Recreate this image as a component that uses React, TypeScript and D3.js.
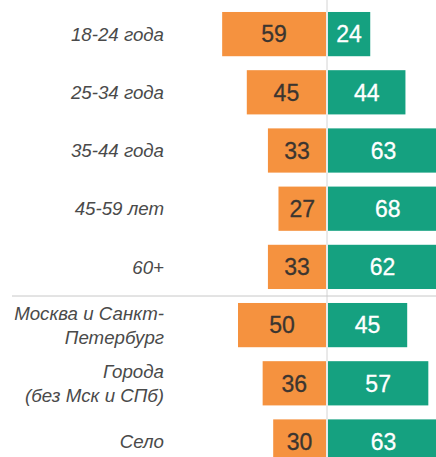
import * as d3 from "d3";
import React, { useRef, useEffect } from "react";

// rows, top to bottom ("\n" = line break in the label)
const categories = [
  "18-24 года",
  "25-34 года",
  "35-44 года",
  "45-59 лет",
  "60+",
  "Москва и Санкт-\nПетербург",
  "Города\n(без Мск и СПб)",
  "Село",
];
const leftValues = [59, 45, 33, 27, 33, 50, 36, 30];
const rightValues = [24, 44, 63, 68, 62, 45, 57, 63];
// separator line is drawn after this row
const groupBreakAfter = 4;

const w = 436;
const h = 457;

export default function App() {
  const svgRef = useRef<SVGSVGElement | null>(null);

  useEffect(() => {
    const svgEl = d3.select(svgRef.current);
    svgEl.selectAll("*").remove();
    const svg = svgEl.append("g");

    const center = 327;
    const step = 58.2;
    const yScale = d3
      .scaleBand<string>()
      .domain(categories)
      .range([5, 5 + step * categories.length])
      .paddingInner(0.24)
      .paddingOuter(0.12);
    const xScale = d3.scaleLinear().domain([0, 100]).range([0, 176]);

    const rows = categories.map((c, i) => ({
      cat: c,
      left: leftValues[i],
      right: rightValues[i],
    }));

    // center line
    svg
      .append("line")
      .attr("x1", center)
      .attr("x2", center)
      .attr("y1", 0)
      .attr("y2", h)
      .attr("stroke", "#d4d4d4")
      .attr("stroke-width", 1);

    // separator
    const sepY =
      yScale(categories[groupBreakAfter])! +
      yScale.bandwidth() +
      (yScale.step() * yScale.paddingInner()) / 2;
    svg
      .append("line")
      .attr("x1", 12)
      .attr("x2", w)
      .attr("y1", sepY)
      .attr("y2", sepY)
      .attr("stroke", "#c8c8c8")
      .attr("stroke-width", 1);

    // orange bars
    svg
      .selectAll("rect.left")
      .data(rows)
      .enter()
      .append("rect")
      .attr("class", "left")
      .attr("x", (d) => center - 1 - xScale(d.left))
      .attr("y", (d) => yScale(d.cat)!)
      .attr("width", (d) => xScale(d.left))
      .attr("height", yScale.bandwidth())
      .attr("fill", "#F5923F");

    // green bars
    svg
      .selectAll("rect.right")
      .data(rows)
      .enter()
      .append("rect")
      .attr("class", "right")
      .attr("x", center + 1)
      .attr("y", (d) => yScale(d.cat)!)
      .attr("width", (d) => xScale(d.right))
      .attr("height", yScale.bandwidth())
      .attr("fill", "#15A180");

    const mid = (d: { cat: string }) => yScale(d.cat)! + yScale.bandwidth() / 2;

    // values
    svg
      .selectAll("text.lv")
      .data(rows)
      .enter()
      .append("text")
      .attr("class", "lv")
      .attr("x", (d) => center - 1 - xScale(d.left) / 2)
      .attr("y", mid)
      .attr("dy", "0.36em")
      .attr("text-anchor", "middle")
      .attr("font-family", "'Liberation Sans', Arial, sans-serif")
      .attr("font-size", 23)
      .attr("fill", "#3b3530")
      .attr("stroke", "#3b3530")
      .attr("stroke-width", 0.3)
      .text((d) => d.left);

    svg
      .selectAll("text.rv")
      .data(rows)
      .enter()
      .append("text")
      .attr("class", "rv")
      .attr("x", (d) => center + 1 + xScale(d.right) / 2)
      .attr("y", mid)
      .attr("dy", "0.36em")
      .attr("text-anchor", "middle")
      .attr("font-family", "'Liberation Sans', Arial, sans-serif")
      .attr("font-size", 23)
      .attr("fill", "#ffffff")
      .attr("stroke", "#ffffff")
      .attr("stroke-width", 0.3)
      .text((d) => d.right);

    // category labels
    const lineH = 24;
    svg
      .selectAll("text.cat")
      .data(rows)
      .enter()
      .append("text")
      .attr("class", "cat")
      .attr("text-anchor", "end")
      .attr("font-family", "'Liberation Sans', Arial, sans-serif")
      .attr("font-style", "italic")
      .attr("font-size", 18.7)
      .attr("fill", "#4a4a4a")
      .each(function (d) {
        const lines = d.cat.split("\n");
        const t = d3.select(this);
        const y0 = mid(d) - ((lines.length - 1) * lineH) / 2;
        lines.forEach((ln, i) => {
          t.append("tspan")
            .attr("x", 164)
            .attr("y", y0 + i * lineH)
            .attr("dy", "0.36em")
            .text(ln);
        });
      });
  });

  return (
    <svg
      ref={svgRef}
      width={w}
      height={h}
      viewBox={`0 0 ${w} ${h}`}
      style={{ position: "absolute", left: 0, top: 0, background: "#fff" }}
    />
  );
}
